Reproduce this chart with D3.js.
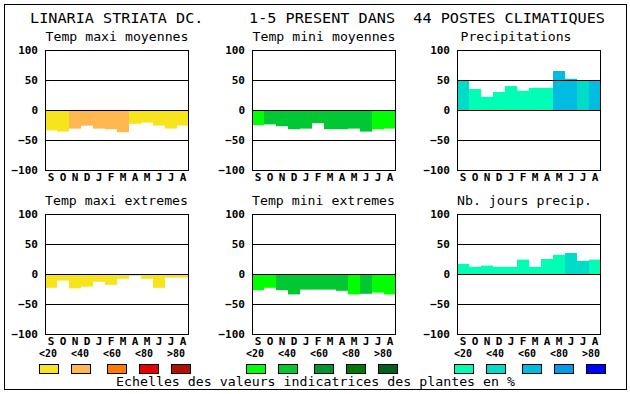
<!DOCTYPE html>
<html>
<head>
<meta charset="utf-8">
<script src="https://cdn.jsdelivr.net/npm/d3@7"></script>
<style>
  body { margin: 0; background: #fff; }
  svg { display: block; }
  text { font-family: "DejaVu Sans Mono", "Liberation Mono", monospace; fill: #000; }
</style>
</head>
<body>
<div id="chart-area"></div>
<script>
// data
const months = ["S", "O", "N", "D", "J", "F", "M", "A", "M", "J", "J", "A"]
const ticks = [100, 50, 0, -50, -100]
const legendLabels = ["<20", "<40", "<60", "<80", ">80"]

const warmColors = ["#f8e41c", "#ffb850", "#ff7c00", "#e80000", "#b01000"]
const greenColors = ["#00ff00", "#00c832", "#009632", "#007800", "#006020"]
const blueColors = ["#00ffb4", "#00dcc8", "#00bce0", "#009ce8", "#0000ff"]

const titles = ["Temp maxi moyennes", "Temp mini moyennes", "Precipitations",
                "Temp maxi extremes", "Temp mini extremes", "Nb. jours precip."]

const tempMaxiMoy = [-34, -36, -31, -26, -31, -32, -37, -23, -21, -26, -31, -26]
const tempMaxiMoyClass = [0, 0, 1, 1, 1, 1, 1, 0, 0, 0, 0, 0]
const tempMiniMoy = [-25, -24, -27, -32, -31, -22, -32, -32, -31, -36, -32, -31]
const tempMiniMoyClass = [0, 1, 1, 1, 1, 1, 1, 1, 1, 1, 0, 0]
const precip = [50, 35, 22, 30, 40, 32, 37, 37, 65, 52, 50, 50]
const precipClass = [1, 0, 0, 0, 0, 0, 0, 0, 2, 2, 1, 2]
const tempMaxiExt = [-23, -11, -24, -21, -13, -18, -8, -3, -8, -23, -6, -6]
const tempMaxiExtClass = [0, 0, 0, 0, 0, 0, 0, 0, 0, 0, 0, 0]
const tempMiniExt = [-27, -23, -27, -34, -26, -26, -26, -28, -34, -33, -31, -34]
const tempMiniExtClass = [0, 0, 1, 1, 1, 1, 1, 1, 0, 1, 0, 0]
const nbJours = [17, 12, 14, 12, 12, 24, 12, 25, 32, 35, 22, 24]
const nbJoursClass = [0, 0, 0, 0, 0, 0, 0, 0, 0, 1, 1, 0]

const panels = [
    { values: tempMaxiMoy, cls: tempMaxiMoyClass, colors: warmColors },
    { values: tempMiniMoy, cls: tempMiniMoyClass, colors: greenColors },
    { values: precip, cls: precipClass, colors: blueColors },
    { values: tempMaxiExt, cls: tempMaxiExtClass, colors: warmColors },
    { values: tempMiniExt, cls: tempMiniExtClass, colors: greenColors },
    { values: nbJours, cls: nbJoursClass, colors: blueColors }
]

// layout
const W = 630, H = 394
const colX = [45, 252, 457]
const rowY = [50, 214]
const plotW = 144, plotH = 120
const titleShift = [0.5, 0.5, 3.5, 0, 0, 0]
const legendX = [39, 246, 454]
const swatchOffset = [0, 32, 68, 100, 132]

const svg = d3.select("#chart-area").append("svg")
    .attr("width", W)
    .attr("height", H)

svg.append("rect")
    .attr("x", 4.5).attr("y", 4.5)
    .attr("width", 622).attr("height", 385)
    .attr("fill", "none").attr("stroke", "#000")

svg.append("text")
    .attr("x", 30).attr("y", 22.5)
    .attr("font-size", 14)
    .attr("textLength", 64 * 9 - 1)
    .attr("lengthAdjust", "spacingAndGlyphs")
    .style("white-space", "pre")
    .text("LINARIA STRIATA DC.     1-5 PRESENT DANS  44 POSTES CLIMATIQUES")

const x = d3.scaleBand().domain(d3.range(12)).range([0, plotW])
const y = d3.scaleLinear().domain([-100, 100]).range([plotH, 0])

panels.forEach((p, k) => {
    const col = k % 3, row = Math.floor(k / 3)
    const g = svg.append("g")
        .attr("transform", `translate(${colX[col]},${rowY[row]})`)

    g.append("text")
        .attr("x", titleShift[k]).attr("y", -9)
        .attr("font-size", 13)
        .attr("textLength", titles[k].length * 8 - 1)
        .attr("lengthAdjust", "spacingAndGlyphs")
        .text(titles[k])

    g.selectAll("rect.bar")
        .data(p.values)
        .enter().append("rect")
        .attr("class", "bar")
        .attr("x", (d, i) => x(i))
        .attr("width", x.bandwidth())
        .attr("y", d => y(Math.max(d, 0)))
        .attr("height", d => Math.abs(y(d) - y(0)))
        .attr("fill", (d, i) => p.colors[p.cls[i]])

    const yAxis = g.append("g")
        .call(d3.axisLeft(y).tickValues(ticks).tickSize(-plotW).tickPadding(7))
    yAxis.select(".domain").remove()
    yAxis.selectAll("line").attr("stroke", "#000")
    yAxis.selectAll("text")
        .attr("font-size", 11).attr("font-weight", "bold")
        .attr("font-family", "DejaVu Sans Mono")

    g.append("rect")
        .attr("x", 0.5).attr("y", 0.5)
        .attr("width", plotW - 1).attr("height", plotH)
        .attr("fill", "none").attr("stroke", "#000")

    const xAxis = g.append("g")
        .attr("transform", `translate(0,${plotH})`)
        .call(d3.axisBottom(x).tickSize(0).tickPadding(3).tickFormat(i => months[i]))
    xAxis.select(".domain").remove()
    xAxis.selectAll("text")
        .attr("font-size", 11).attr("font-weight", "bold")
        .attr("font-family", "DejaVu Sans Mono")
})

// legends
;[warmColors, greenColors, blueColors].forEach((cols, k) => {
    const g = svg.append("g").attr("transform", `translate(${legendX[k]},0)`)
    g.selectAll("text")
        .data(legendLabels)
        .enter().append("text")
        .attr("x", (d, i) => i * 32)
        .attr("y", 357)
        .attr("font-size", 11).attr("font-weight", "bold")
        .attr("textLength", 18)
        .attr("lengthAdjust", "spacingAndGlyphs")
        .text(d => d)
    g.selectAll("rect")
        .data(cols)
        .enter().append("rect")
        .attr("x", (d, i) => swatchOffset[i] + 0.5)
        .attr("y", 364.5)
        .attr("width", 19).attr("height", 9)
        .attr("fill", d => d)
        .attr("stroke", "#000")
})

const foot = "Echelles des valeurs indicatrices des plantes en %"
svg.append("text")
    .attr("x", 116).attr("y", 386)
    .attr("font-size", 13)
    .attr("textLength", foot.length * 8 - 1)
    .attr("lengthAdjust", "spacingAndGlyphs")
    .text(foot)
</script>
</body>
</html>
